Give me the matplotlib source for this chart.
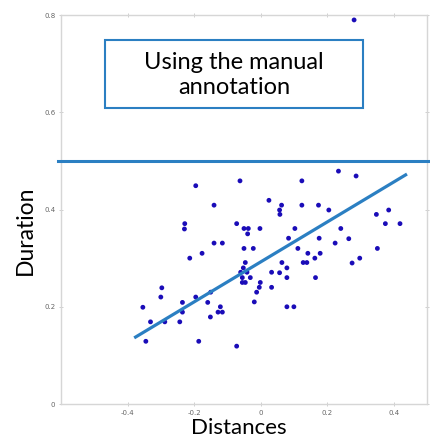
import matplotlib
matplotlib.use('Agg')
import matplotlib.pyplot as plt
from matplotlib.patches import Rectangle

# scatter values (distance, duration)
distances = [0.281, -0.195, -0.140, -0.228, -0.229, -0.140, -0.176, -0.213, -0.062, 0.124,
             0.025, 0.063, 0.124, 0.174, 0.057, 0.058, -0.072, -0.050, -0.037, -0.039,
             -0.002, 0.103, 0.084, 0.176, -0.115, -0.050, -0.022, 0.112, 0.142, 0.163,
             0.179, 0.234, 0.287, 0.205, 0.348, 0.385, 0.375, 0.419, 0.241, 0.265,
             0.224, 0.351, 0.298, 0.128, 0.139, 0.275, -0.046, -0.052, -0.060, -0.041,
             -0.055, -0.031, -0.055, -0.046, 0.033, 0.057, 0.064, 0.079, 0.079, 0.165,
             -0.001, -0.004, 0.033, -0.012, -0.019, 0.079, 0.100, -0.121, -0.128, -0.115,
             -0.151, -0.072, -0.297, -0.300, -0.354, -0.331, -0.288, -0.235, -0.195, -0.159,
             -0.150, -0.235, -0.243, -0.345, -0.186]
durations = [0.790, 0.449, 0.409, 0.371, 0.360, 0.331, 0.310, 0.300, 0.459, 0.459,
             0.419, 0.409, 0.409, 0.409, 0.399, 0.390, 0.371, 0.361, 0.361, 0.350,
             0.361, 0.361, 0.341, 0.341, 0.331, 0.320, 0.320, 0.320, 0.310, 0.300,
             0.310, 0.479, 0.469, 0.399, 0.390, 0.399, 0.371, 0.371, 0.361, 0.340,
             0.331, 0.320, 0.300, 0.291, 0.291, 0.290, 0.291, 0.280, 0.271, 0.271,
             0.260, 0.260, 0.250, 0.250, 0.271, 0.270, 0.291, 0.280, 0.260, 0.260,
             0.250, 0.240, 0.240, 0.230, 0.210, 0.200, 0.200, 0.200, 0.189, 0.189,
             0.179, 0.119, 0.239, 0.220, 0.199, 0.169, 0.169, 0.209, 0.220, 0.209,
             0.230, 0.189, 0.169, 0.129, 0.129]

# hand-drawn fit line and manual threshold
fit_x = [-0.38, 0.44]
fit_y = [0.136, 0.473]
threshold = 0.5

xticks = [-0.4, -0.2, 0, 0.2, 0.4]
yticks = [0, 0.2, 0.4, 0.6, 0.8]

blue = '#2b7fc2'
dot = '#1a0cb8'

fig = plt.figure(figsize=(4.30, 4.37), dpi=100)
ax = fig.add_axes([0.1419, 0.0755, 0.851, 0.890])

ax.scatter(distances, durations, s=12, color=dot, edgecolors='none', zorder=3)
ax.plot(fit_x, fit_y, color=blue, lw=2.3, solid_capstyle='butt', zorder=4)
ax.axhline(threshold, xmin=-0.008, xmax=1.01, color=blue, lw=2.2, clip_on=False, zorder=4)

ax.set_xlim(-0.6, 0.5)
ax.set_ylim(0, 0.8)
ax.set_xticks(xticks)
ax.set_yticks(yticks)
ax.set_xticklabels(['-0.4', '-0.2', '0', '0.2', '0.4'])
ax.set_yticklabels(['0', '0.2', '0.4', '0.6', '0.8'])
ax.tick_params(direction='inout', length=3, width=0.6, color='#c8c8c8',
               labelsize=5, labelcolor='#666666', top=True, right=True, pad=2.5)
for s in ax.spines.values():
    s.set_color('#d6d6d6')
    s.set_linewidth(1.0)

# annotation box
ax.add_patch(Rectangle((0.120, 0.761), 0.705, 0.175, transform=ax.transAxes,
                       fill=False, edgecolor=blue, lw=1.5, zorder=5))
ax.text(0.473, 0.846, 'Using the manual\nannotation', transform=ax.transAxes,
        ha='center', va='center', fontsize=17, family='Lato', linespacing=1.2)

fig.text(0.058, 0.474, 'Duration', rotation=90, ha='center', va='center',
         fontsize=16.5, family='Lato')
fig.text(0.556, 0.021, 'Distances', ha='center', va='center',
         fontsize=16, family='Lato')

fig.savefig('out.png', dpi=100)
